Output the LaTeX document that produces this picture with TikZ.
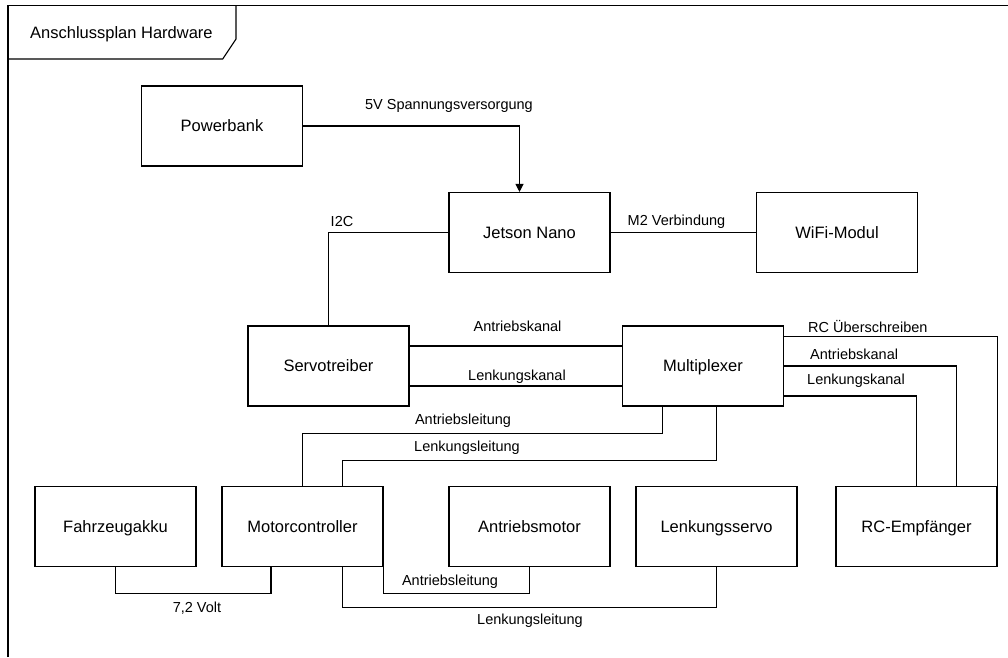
\documentclass[tikz,border=0pt]{standalone}
\usepackage{fontspec}
\setmainfont{Liberation Sans}
\usepackage{tikz}
\usetikzlibrary{positioning}
\usetikzlibrary{calc,arrows.meta}

\tikzset{
	block/.style={draw, line width=1.1pt, minimum width=161pt, minimum height=80pt,
		inner sep=0pt, text height=11.8pt, text depth=0pt,
		font=\fontsize{16.5}{19}\selectfont},
	wire/.style={line width=1.1pt},
	wirelabel/.style={inner sep=0pt, anchor=base, font=\fontsize{14.5}{17}\selectfont},
}

\begin{document}
\begin{tikzpicture}[x=1pt, y=-1pt]
	
	% ------------------------------------------------
	% Ensure the dimensions of graphic are appropriate
	\useasboundingbox (0,0) rectangle (1008,657);
	
	% ------------------------------------------------
	% Frame with title tab
	\coordinate (FrameBottom)   at (8,657);
	\coordinate (FrameTopLeft)  at (8,5.5);
	\coordinate (FrameTopRight) at (1008,5.5);
	
	\path (FrameTopLeft)  +(0,53.5)     coordinate (TabBottomLeft);
	\path (TabBottomLeft) +(214.7,0)    coordinate (TabBottomRight);
	\path (FrameTopLeft)  +(228,0)      coordinate (TabTopRight);
	\path (TabTopRight)   +(0,33.5)     coordinate (TabCorner);
	
	\draw[wire] (FrameBottom) -- (FrameTopLeft) -- (FrameTopRight);
	\draw[wire] (TabBottomLeft) -- (TabBottomRight) -- (TabCorner) -- (TabTopRight);
	
	\node[wirelabel, anchor=base west, font=\fontsize{16.5}{19}\selectfont] (Title) at (30,38) {Anschlussplan Hardware};
	
	% ------------------------------------------------
	% Blocks
	\node[block] (Powerbank)       at (222,126)     {Powerbank};
	\node[block] (JetsonNano)      at (529.5,232.5) {Jetson Nano};
	\node[block] (WiFiModul)       at (837,232.5)   {WiFi-Modul};
	\node[block] (Servotreiber)    at (328.5,366)   {Servotreiber};
	\node[block] (Multiplexer)     at (703,366)     {Multiplexer};
	\node[block] (Fahrzeugakku)    at (115.5,526.5) {Fahrzeugakku};
	\node[block] (Motorcontroller) at (302.5,526.5) {Motorcontroller};
	\node[block] (Antriebsmotor)   at (529.5,526.5) {Antriebsmotor};
	\node[block] (Lenkungsservo)   at (716.5,526.5) {Lenkungsservo};
	\node[block] (RCEmpfaenger)    at (916.5,526.5) {RC-Empfänger};
	
	% ------------------------------------------------
	% Relevant coordinates
	\path (JetsonNano.north)   +(-10,0)  coordinate (JetsonIn);
	
	\path (Servotreiber.east)  +(0,-20)  coordinate (ServoOutA);
	\path (Servotreiber.east)  +(0,20)   coordinate (ServoOutL);
	
	\path (Multiplexer.east)   +(0,-29.5) coordinate (MuxOutRC);
	\path (Multiplexer.east)   +(0,30)    coordinate (MuxOutL);
	\path (RCEmpfaenger.north) +(40,0)    coordinate (RCInA);
	
	\path (Multiplexer.south)  +(-40.5,0) coordinate (MuxDownA);
	\path (Multiplexer.south)  +(13.5,0)  coordinate (MuxDownL);
	\path (Motorcontroller.north) +(40,0) coordinate (MotorInL);
	
	\path (Motorcontroller.south) +(-31.5,0) coordinate (MotorPower);
	\path (Motorcontroller.south) +(40,0)    coordinate (MotorOutL);
	
	% ----------------
	% Connectors
	\draw[wire, -{Triangle[width=8pt,length=8pt]}] (Powerbank.east) -| (JetsonIn);
	\draw[wire] (JetsonNano.west) -| (Servotreiber.north);
	\draw[wire] (JetsonNano.east) -- (WiFiModul.west);
	
	\draw[wire] (ServoOutA) -- (ServoOutA -| Multiplexer.west);
	\draw[wire] (ServoOutL) -- (ServoOutL -| Multiplexer.west);
	
	\draw[wire] (MuxOutRC)         -| (RCEmpfaenger.north east);
	\draw[wire] (Multiplexer.east) -| (RCInA);
	\draw[wire] (MuxOutL)          -| (RCEmpfaenger.north);
	
	\draw[wire] (MuxDownA) -- ++(0,26.5) -| (Motorcontroller.north);
	\draw[wire] (MuxDownL) -- ++(0,53.5) -| (MotorInL);
	
	\draw[wire] (Fahrzeugakku.south)          -- ++(0,26) -| (MotorPower);
	\draw[wire] (Motorcontroller.south east)  -- ++(0,26) -| (Antriebsmotor.south);
	\draw[wire] (MotorOutL)                   -- ++(0,40) -| (Lenkungsservo.south);
	
	% ----------------
	% Labels
	\node[wirelabel] (LabelPower)         at (449,109)   {5V Spannungsversorgung};
	\node[wirelabel] (LabelIIC)           at (342,226)   {I2C};
	\node[wirelabel] (LabelMTwo)          at (676.5,225) {M2 Verbindung};
	\node[wirelabel] (LabelAntriebskanal) at (517.5,331.5) {Antriebskanal};
	\node[wirelabel] (LabelLenkungskanal) at (517,380)   {Lenkungskanal};
	
	\node[wirelabel, anchor=base west] (LabelRC)        at (808,332.5) {RC Überschreiben};
	\node[wirelabel, anchor=base west] (LabelRCAntrieb) at (810,359)   {Antriebskanal};
	\node[wirelabel, anchor=base west] (LabelRCLenkung) at (807,384)   {Lenkungskanal};
	
	\node[wirelabel] (LabelAntriebUpper) at (463,424) {Antriebsleitung};
	\node[wirelabel] (LabelLenkungUpper) at (467,451) {Lenkungsleitung};
	\node[wirelabel] (LabelVolt)         at (197,612) {7,2 Volt};
	\node[wirelabel] (LabelAntriebLower) at (450,585) {Antriebsleitung};
	\node[wirelabel] (LabelLenkungLower) at (530,624) {Lenkungsleitung};
	
\end{tikzpicture}
\end{document}
